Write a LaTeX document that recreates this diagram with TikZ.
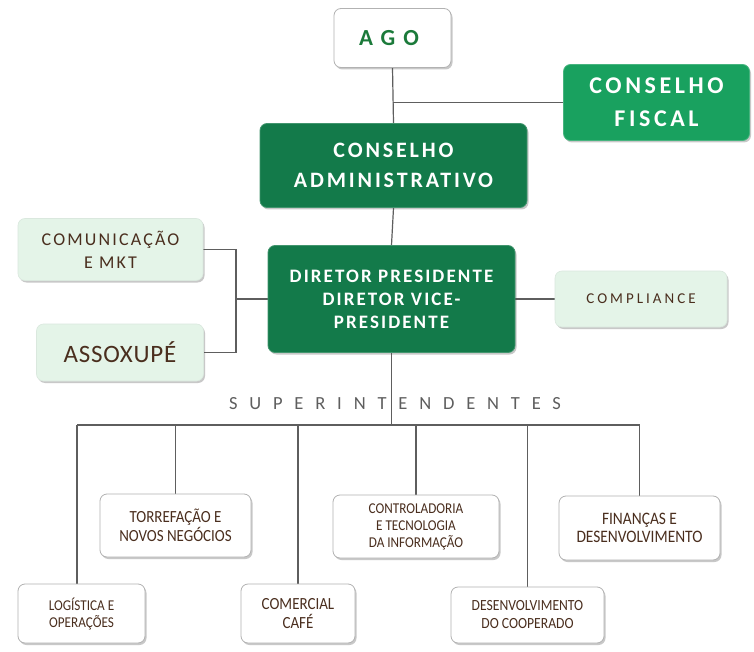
\documentclass[tikz,border=0pt]{standalone}
\usepackage{fontspec}
\setmainfont{Carlito}
\newfontfamily\condfont[FakeStretch=0.88]{Carlito}
\usetikzlibrary{shadows,backgrounds}
\definecolor{dkgreen}{HTML}{137A4A}
\definecolor{mdgreen}{HTML}{19A15F}
\definecolor{ltgreen}{HTML}{E4F4E8}
\definecolor{txtbrown}{HTML}{4A2E1E}
\definecolor{agogreen}{HTML}{1B7A3A}
\definecolor{linegray}{HTML}{5E5E5E}
\newcommand\myfs[2]{\fontsize{#1}{#2}\selectfont}
\tikzset{
  basebox/.style={rounded corners=7pt, align=center, inner sep=0pt,
    drop shadow={shadow xshift=1.5pt, shadow yshift=-2pt, opacity=0.3, fill=black!70}},
  darkbox/.style={basebox, fill=dkgreen, draw=dkgreen!80!white, line width=0.8pt, text=white},
  midbox/.style={basebox, fill=mdgreen, draw=mdgreen!80!white, line width=0.8pt, text=white},
  lightbox/.style={basebox, fill=ltgreen, draw=ltgreen!90!gray, line width=0.6pt, text=txtbrown},
  whitebox/.style={basebox, fill=white, draw=black!30, line width=0.8pt, text=txtbrown},
  conn/.style={draw=linegray, line width=1.2pt},
}
\begin{document}
\begin{tikzpicture}[x=1pt,y=-1pt]
\useasboundingbox (0,0) rectangle (754,652);
% top
\node[whitebox, minimum width=117pt, minimum height=59pt,
  font={\bfseries\myfs{23}{26}\addfontfeatures{LetterSpace=35}}, text=agogreen] (ago) at (392.5,38) {AGO\kern7pt};
\node[midbox, minimum width=186pt, minimum height=76pt,
  font={\bfseries\myfs{24}{33}\addfontfeatures{LetterSpace=15}}] (fiscal) at (656.5,102.5) {CONSELHO\\FISCAL};
\node[darkbox, minimum width=267pt, minimum height=84pt,
  font={\bfseries\myfs{22}{30}\addfontfeatures{LetterSpace=13}}] (adm) at (393.5,165.5) {CONSELHO\\ADMINISTRATIVO};
\node[darkbox, minimum width=247pt, minimum height=107pt,
  font={\bfseries\myfs{19}{23}\addfontfeatures{LetterSpace=11}}] (dir) at (391.5,299) {DIRETOR PRESIDENTE\\DIRETOR VICE-\\PRESIDENTE};
% sides
\node[lightbox, minimum width=185pt, minimum height=62pt,
  font={\myfs{18}{23}\addfontfeatures{LetterSpace=12}}] (com) at (110.5,249.5) {COMUNICAÇÃO\\E MKT};
\node[lightbox, minimum width=167pt, minimum height=57pt,
  font={\myfs{25}{28}\addfontfeatures{LetterSpace=3}}] (asx) at (120,352.5) {ASSOXUPÉ};
\node[lightbox, minimum width=172pt, minimum height=56pt,
  font={\myfs{15}{18}\addfontfeatures{LetterSpace=20}}] (comp) at (641,299) {COMPLIANCE};
% superintendentes label
\node[text=linegray, font={\myfs{18.5}{20}\addfontfeatures{LetterSpace=64}}, inner sep=0pt] (sup) at (395,404) {SUPERINTENDENTES};
% bottom boxes
\node[whitebox, minimum width=127pt, minimum height=59pt,
  font={\condfont\myfs{15}{17}}] (log) at (81.5,613.5) {LOGÍSTICA E\\OPERAÇÕES};
\node[whitebox, minimum width=151pt, minimum height=63pt,
  font={\condfont\myfs{17}{19}}] (tor) at (175.5,525.5) {TORREFAÇÃO E\\NOVOS NEGÓCIOS};
\node[whitebox, minimum width=114pt, minimum height=59pt,
  font={\condfont\myfs{17}{19}}] (cml) at (298,613.5) {COMERCIAL\\CAFÉ};
\node[whitebox, minimum width=166pt, minimum height=63pt,
  font={\condfont\myfs{15}{17}}] (ctl) at (416,526.5) {CONTROLADORIA\\E TECNOLOGIA\\DA INFORMAÇÃO};
\node[whitebox, minimum width=153pt, minimum height=56pt,
  font={\condfont\myfs{15.5}{18}}] (dev) at (527.5,615) {DESENVOLVIMENTO\\DO COOPERADO};
\node[whitebox, minimum width=161pt, minimum height=64pt,
  font={\condfont\myfs{17.5}{18.5}}] (fin) at (639.5,528) {FINANÇAS E\\DESENVOLVIMENTO};
\coordinate (bx) at (236,0);
\coordinate (bus) at (0,425);
\coordinate (logtop) at ([xshift=-4.5pt]log.north);
\begin{scope}[on background layer]
\fill[white] (0,0) rectangle (754,652);
\draw[conn] (ago.south) -- (adm.north);
\draw[conn] (ago.south |- fiscal.west) -- (fiscal.west);
\draw[conn] (adm.south) -- (dir.north);
\draw[conn] (com.east) -- (com.east -| bx) -- (asx.east -| bx) -- (asx.east);
\draw[conn] (dir.west) -- (dir.west -| bx);
\draw[conn] (dir.east) -- (comp.west);
\draw[conn] (dir.south) -- (dir.south |- bus);
\draw[conn] (logtop |- bus) -- (fin.north |- bus);
\draw[conn] (logtop |- bus) -- (logtop);
\foreach \n in {tor,cml,ctl,dev,fin}{
  \draw[conn] (\n.north |- bus) -- (\n.north);
}
\end{scope}
\end{tikzpicture}
\end{document}
